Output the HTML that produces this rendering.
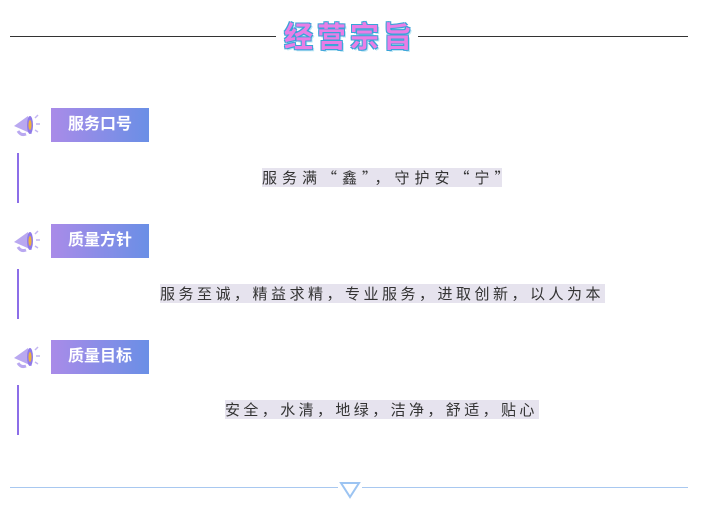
<!DOCTYPE html>
<html><head><meta charset="utf-8"><style>
body{margin:0;width:703px;height:508px;background:#fff;position:relative;overflow:hidden;font-family:"Liberation Sans","Noto Sans CJK SC",sans-serif}
.a{position:absolute}
.hl{position:absolute;height:19px;line-height:19px;font-size:15px;color:#333;background:#e6e3ee;white-space:nowrap;font-family:"Noto Sans CJK SC",sans-serif;overflow:hidden}
.box{position:absolute;left:51px;width:98px;height:34px;line-height:34px;text-align:center;color:#fff;font-weight:bold;font-size:16px;background:linear-gradient(90deg,#a98be8,#6a8fe6)}
.vl{position:absolute;left:17px;width:2px;height:50px;background:#8c6ee8}
</style></head><body>
<div class="a" style="left:10px;top:36px;width:266px;height:1px;background:#333"></div>
<div class="a" style="left:418px;top:36px;width:270px;height:1px;background:#333"></div>
<div class="a" style="left:278px;top:20px;width:140px;text-align:center;font-size:29px;font-weight:bold;color:#e87ee6;letter-spacing:4px;text-indent:4px;line-height:36px;text-shadow:-1px -1px 0 #3aa3d8,1px -1px 0 #3aa3d8,-1px 1px 0 #3aa3d8,1px 1px 0 #3aa3d8,2px 2px 0 #bfe6f4">经营宗旨</div>

<svg class="a" style="left:10px;top:112px" width="34" height="28" viewBox="0 0 34 28"><path d="M4 14 L18 4 L22 22 Z" fill="#b9a8f0"/><ellipse cx="20" cy="13" rx="3" ry="9" fill="#8f7ae8"/><ellipse cx="20" cy="13" rx="1.5" ry="5" fill="#f0b23a"/><path d="M8 19 q3 5 8 3" stroke="#b9a8f0" stroke-width="3" fill="none"/><path d="M25 6 l3 -3 M26 12 h4 M25 18 l3 2" stroke="#c4b6f2" stroke-width="1.5"/></svg>
<svg class="a" style="left:10px;top:228px" width="34" height="28" viewBox="0 0 34 28"><path d="M4 14 L18 4 L22 22 Z" fill="#b9a8f0"/><ellipse cx="20" cy="13" rx="3" ry="9" fill="#8f7ae8"/><ellipse cx="20" cy="13" rx="1.5" ry="5" fill="#f0b23a"/><path d="M8 19 q3 5 8 3" stroke="#b9a8f0" stroke-width="3" fill="none"/><path d="M25 6 l3 -3 M26 12 h4 M25 18 l3 2" stroke="#c4b6f2" stroke-width="1.5"/></svg>
<svg class="a" style="left:10px;top:344px" width="34" height="28" viewBox="0 0 34 28"><path d="M4 14 L18 4 L22 22 Z" fill="#b9a8f0"/><ellipse cx="20" cy="13" rx="3" ry="9" fill="#8f7ae8"/><ellipse cx="20" cy="13" rx="1.5" ry="5" fill="#f0b23a"/><path d="M8 19 q3 5 8 3" stroke="#b9a8f0" stroke-width="3" fill="none"/><path d="M25 6 l3 -3 M26 12 h4 M25 18 l3 2" stroke="#c4b6f2" stroke-width="1.5"/></svg>

<div class="box" style="top:108px">服务口号</div>
<div class="vl" style="top:153px"></div>
<div class="hl" style="left:262px;top:168px;width:240px;letter-spacing:5px">服务满“鑫”，守护安“宁”</div>

<div class="box" style="top:224px">质量方针</div>
<div class="vl" style="top:269px"></div>
<div class="hl" style="left:160px;top:284px;width:445px;letter-spacing:3.5px">服务至诚，精益求精，专业服务，进取创新，以人为本</div>

<div class="box" style="top:340px">质量目标</div>
<div class="vl" style="top:385px"></div>
<div class="hl" style="left:225px;top:400px;width:314px;letter-spacing:3.4px">安全，水清，地绿，洁净，舒适，贴心</div>

<div class="a" style="left:10px;top:487px;width:328px;height:1px;background:#a8c8f0"></div>
<div class="a" style="left:362px;top:487px;width:326px;height:1px;background:#a8c8f0"></div>
<svg class="a" style="left:339px;top:481px" width="22" height="18"><path d="M2 2 L20 2 L11 16 Z" fill="none" stroke="#9cc4f2" stroke-width="2"/></svg>
</body></html>
